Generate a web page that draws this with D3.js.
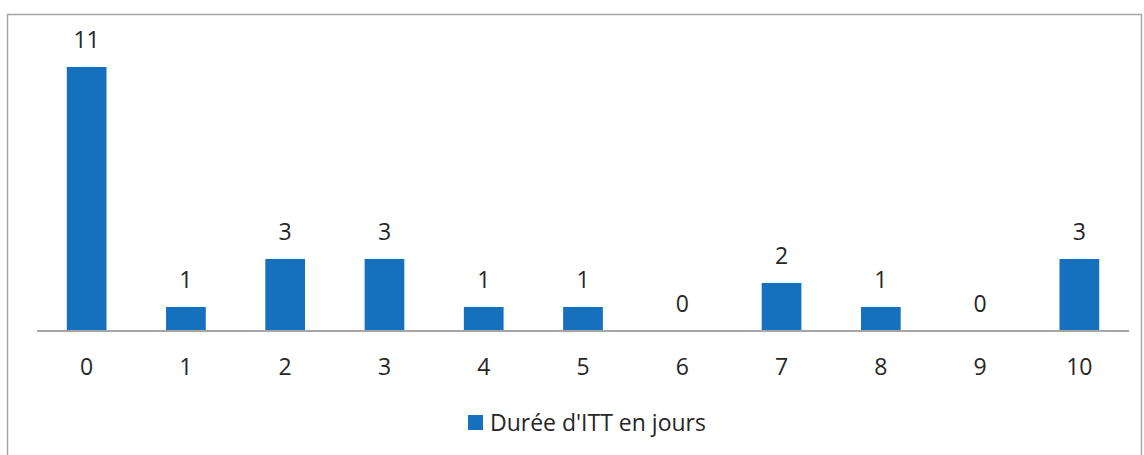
<!DOCTYPE html>
<html>
<head>
<meta charset="utf-8">
<script src="https://cdn.jsdelivr.net/npm/d3@7"></script>
<style>
  body { margin: 0; background: #fff; }
  svg text { font-family: "Open Sans", sans-serif; fill: #262626; }
</style>
</head>
<body>
<svg id="chart"></svg>
<script>
var width = 1144, height = 455;

// data
var categories = ["0", "1", "2", "3", "4", "5", "6", "7", "8", "9", "10"];
var values = [11, 1, 3, 3, 1, 1, 0, 2, 1, 0, 3];
var seriesName = "Durée d'ITT en jours";

var barColor = "#1570bd";
var baseline = 331;
var fontSize = "23px";

var svg = d3.select("#chart")
    .attr("width", width)
    .attr("height", height);

// chart frame
svg.append("rect")
    .attr("x", 7.5)
    .attr("y", 14.5)
    .attr("width", 1134)
    .attr("height", 460)
    .attr("fill", "none")
    .attr("stroke", "#a6a6a6")
    .attr("stroke-width", 1.5);

// scales
var xScale = d3.scaleBand()
    .domain(categories)
    .range([37, 1129])
    .paddingInner(0.6)
    .paddingOuter(0.3);

var yScale = d3.scaleLinear()
    .domain([0, 11])
    .range([baseline, 67]);

// bars
svg.selectAll(".bar")
  .data(values)
  .enter()
  .append("rect")
    .attr("class", "bar")
    .attr("x", (d, i) => xScale(categories[i]))
    .attr("y", d => yScale(d))
    .attr("width", xScale.bandwidth())
    .attr("height", d => baseline - yScale(d))
    .attr("fill", barColor);

// value labels
svg.selectAll(".val")
  .data(values)
  .enter()
  .append("text")
    .attr("class", "val")
    .attr("x", (d, i) => xScale(categories[i]) + xScale.bandwidth() / 2)
    .attr("y", d => yScale(d) - 19)
    .attr("text-anchor", "middle")
    .style("font-size", fontSize)
    .text(d => d);

// x axis
var xAxis = svg.append("g")
    .attr("transform", `translate(0, ${baseline})`)
    .call(d3.axisBottom(xScale).tickSize(0).tickPadding(28));

xAxis.select(".domain")
    .attr("stroke", "#a6a6a6")
    .attr("stroke-width", 2)
    .attr("d", "M37,0H1129");

xAxis.selectAll("text")
    .style("font-size", fontSize)
    .style("font-family", "'Open Sans', sans-serif")
    .attr("fill", "#262626");

// legend
var legend = svg.append("g")
    .attr("transform", "translate(468, 415)");

legend.append("rect")
    .attr("width", 15)
    .attr("height", 15)
    .attr("fill", barColor);

legend.append("text")
    .attr("x", 22)
    .attr("y", 16)
    .style("font-size", fontSize)
    .text(seriesName);
</script>
</body>
</html>
